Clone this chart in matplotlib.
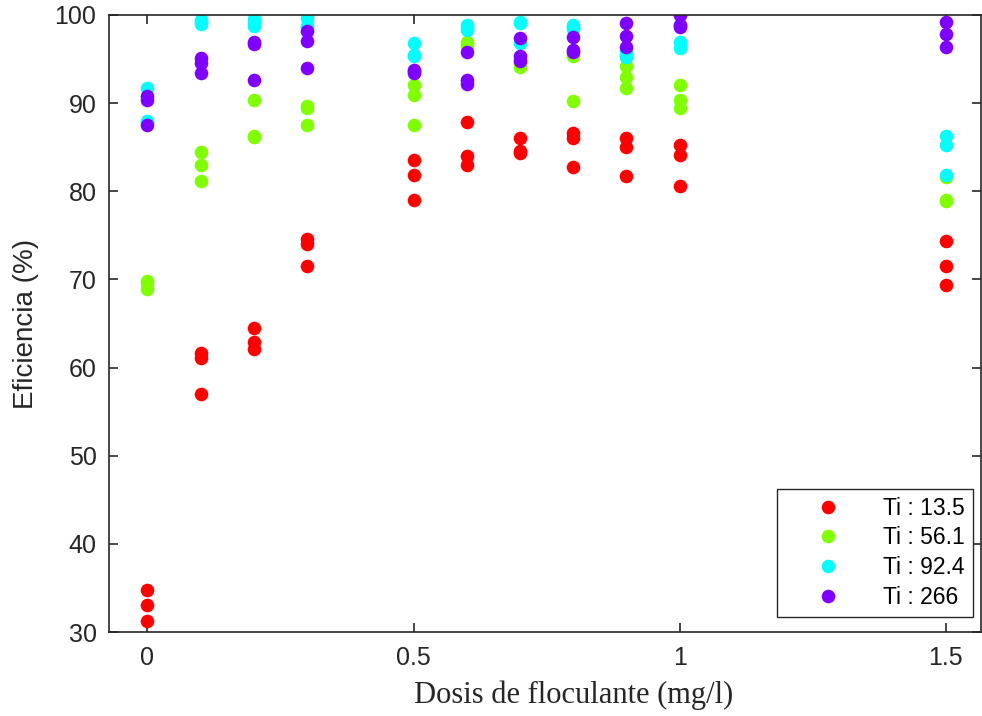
import matplotlib
matplotlib.use("Agg")
import numpy as np
from matplotlib import pyplot as plt

# dosis de floculante (mg/l), tres repeticiones por dosis
dosis = [0, 0.1, 0.2, 0.3, 0.5, 0.6, 0.7, 0.8, 0.9, 1.0, 1.5]

ef_13_5 = [[34.8, 33.1, 31.3], [61.6, 61.1, 57.0], [64.5, 62.9, 62.1],
           [74.6, 74.0, 71.5], [83.5, 81.9, 79.0], [87.9, 84.0, 83.0],
           [86.0, 84.6, 84.4], [86.6, 86.0, 82.7], [86.0, 85.0, 81.7],
           [85.2, 84.1, 80.6], [74.4, 71.5, 69.4]]
ef_56_1 = [[69.8, 69.6, 68.9], [84.5, 83.0, 81.2], [90.4, 86.3, 86.2],
           [89.7, 89.4, 87.5], [92.1, 90.9, 87.5], [96.9, 96.7, 96.5],
           [95.0, 94.5, 94.1], [95.5, 95.3, 90.2], [94.2, 93.0, 91.7],
           [92.1, 90.4, 89.5], [81.6, 79.0, 78.9]]
ef_92_4 = [[91.7, 88.0, 87.9], [99.4, 99.2, 99.0], [99.6, 99.1, 98.7],
           [99.7, 98.8, 98.5], [96.8, 95.5, 95.4], [98.9, 98.5, 98.3],
           [99.2, 99.1, 96.8], [98.9, 98.6, 98.4], [96.0, 95.5, 95.2],
           [98.9, 96.9, 96.3], [86.3, 85.3, 81.8]]
ef_266 = [[90.8, 90.3, 87.5], [95.1, 94.6, 93.4], [96.9, 96.7, 92.6],
          [98.2, 97.0, 94.0], [93.8, 93.4, 93.6], [95.8, 92.6, 92.2],
          [97.4, 95.3, 94.8], [97.5, 96.0, 95.8], [99.1, 97.6, 96.4],
          [100.0, 98.9, 98.6], [99.2, 97.8, 96.4]]

series = [("Ti : 13.5", ef_13_5, "#ff0000"),
          ("Ti : 56.1", ef_56_1, "#80ff00"),
          ("Ti : 92.4", ef_92_4, "#00ffff"),
          ("Ti : 266", ef_266, "#8000ff")]

fig = plt.figure(figsize=(9.82, 7.16), dpi=100)
ax = fig.add_axes([109 / 982, 1 - 632 / 716, 872 / 982, 617 / 716])

for label, vals, col in series:
    vals = np.array(vals)
    xs = np.repeat(dosis, vals.shape[1])
    ax.plot(xs, vals.ravel(), "o", color=col, markersize=9.8,
            markeredgewidth=0, label=label)

ax.set_xlim(-0.072, 1.566)
ax.set_ylim(30, 100)
ax.set_xticks([0, 0.5, 1, 1.5])
ax.set_xticklabels(["0", "0.5", "1", "1.5"])
ax.set_yticks(range(30, 101, 10))

sans = "Liberation Sans"
ax.tick_params(direction="in", length=6.5, width=1.2, top=True, right=True,
               colors="#262626", labelsize=18)
ax.tick_params(axis="x", pad=10)
ax.tick_params(axis="y", pad=9)
for t in ax.get_xticklabels() + ax.get_yticklabels():
    t.set_fontfamily(sans)
for s in ax.spines.values():
    s.set_linewidth(1.2)
    s.set_color("#262626")

ax.set_xlabel("Dosis de floculante (mg/l)", fontsize=22,
              fontfamily="Liberation Serif", color="#262626")
ax.xaxis.set_label_coords(0.533, -0.078)
ax.set_ylabel("Eficiencia (%)", fontsize=20, fontfamily=sans, color="#262626")
ax.yaxis.set_label_coords(-0.08, 0.5)

leg = ax.legend(loc="lower right", bbox_to_anchor=(0.991, 0.024),
                borderaxespad=0, prop={"family": sans, "size": 16.5},
                fancybox=False, framealpha=1, edgecolor="#262626",
                handlelength=3.8, handletextpad=0.5, labelspacing=0.3,
                borderpad=0.35)
leg.get_frame().set_linewidth(1.0)

fig.savefig("out.png", dpi=100)
